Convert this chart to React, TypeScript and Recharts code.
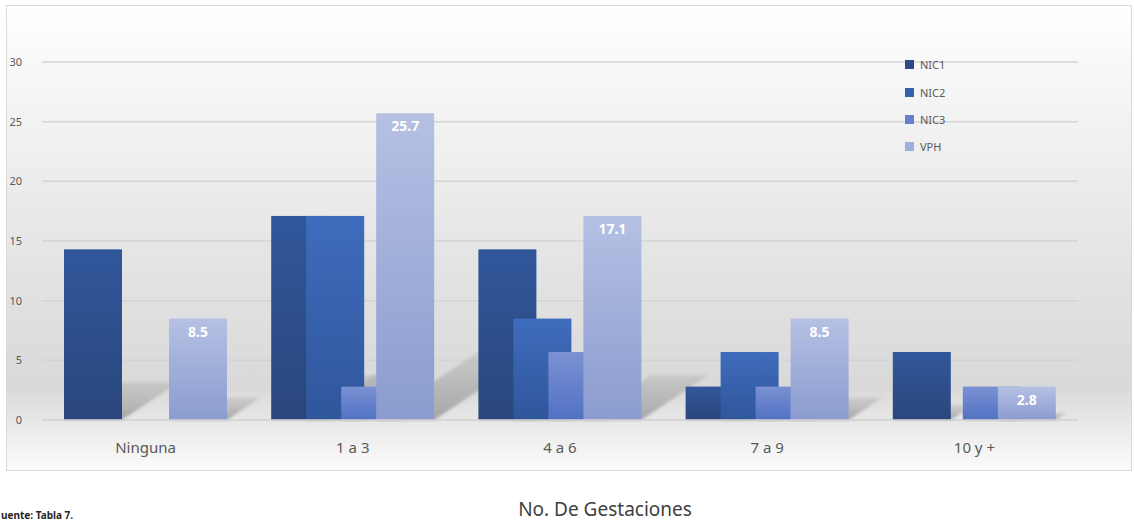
import { Bar, BarChart, CartesianGrid, LabelList, XAxis, YAxis } from "recharts";

const categories = ["Ninguna", "1 a 3", "4 a 6", "7 a 9", "10 y +"];
const nic1 = [14.3, 17.1, 14.3, 2.8, 5.7];
const nic2 = [0, 17.1, 8.5, 5.7, 0];
const nic3 = [0, 2.8, 5.7, 2.8, 2.8];
const vph = [8.5, 25.7, 17.1, 8.5, 2.8];
const yTicks = [0, 5, 10, 15, 20, 25, 30];

const series = [
  { key: "NIC1", values: nic1, top: "#31579b", bottom: "#2a467c", swatch: "#2c4a85" },
  { key: "NIC2", values: nic2, top: "#3f6cbd", bottom: "#30569b", swatch: "#3760ad" },
  { key: "NIC3", values: nic3, top: "#7b91d2", bottom: "#5171c4", swatch: "#6680cb" },
  { key: "VPH", values: vph, top: "#b5c0e3", bottom: "#8a9ccf", swatch: "#a0afda" },
];

const data = categories.map((name, i) => {
  const row: Record<string, string | number> = { name };
  series.forEach((s) => (row[s.key] = s.values[i]));
  return row;
});

const W = 1124;
const H = 464;
const margin = { top: 56, right: 53, bottom: 0, left: 0 };
const font = "'Noto Sans', sans-serif";

function ShadowShape(props: any) {
  const { x, y, width, height } = props;
  if (!height || height <= 0) return null;
  const b = y + height;
  const dx = height * 0.33;
  const dy = -height * 0.22;
  const pts = `${x},${b} ${x + width},${b} ${x + width + dx},${b + dy} ${x + dx},${b + dy}`;
  return <polygon points={pts} fill="url(#shadowFill)" filter="url(#shadowBlur)" />;
}

function GradBar(props: any) {
  const { x, y, width, height, dataKey } = props;
  if (!height || height <= 0) return null;
  return <rect x={x} y={y} width={width} height={height} fill={`url(#g-${dataKey})`} />;
}

const NoTick = () => <g />;

function LegendBox() {
  return (
    <div style={{ position: "absolute", left: 898, top: 45, fontFamily: font, fontSize: 11, color: "#595959" }}>
      {series.map((s) => (
        <div key={s.key} style={{ display: "flex", alignItems: "center", height: 27.4 }}>
          <span style={{ width: 9, height: 9, background: s.swatch, marginRight: 6 }} />
          {s.key}
        </div>
      ))}
    </div>
  );
}

export default function App() {
  return (
    <div style={{ position: "absolute", left: 0, top: 0, width: 1134, height: 523, background: "#fff", overflow: "hidden" }}>
      <div
        style={{
          position: "absolute",
          left: 6,
          top: 5,
          width: W,
          height: H,
          border: "1px solid #d9d9d9",
          background: "linear-gradient(180deg, #ffffff 0%, #f7f7f7 15%, #e4e4e4 55%, #d9d9d9 82%, #f4f4f4 96%, #fbfbfb 100%)",
        }}
      >
        {/* floor shadows and gridlines sit in a chart underneath so every bar covers them */}
        <div style={{ position: "absolute", left: 0, top: 0 }}>
          <BarChart width={W} height={H} data={data} margin={margin} barSize={58} barGap={-23}>
            <defs>
              <linearGradient id="shadowFill" x1="0" y1="1" x2="0" y2="0">
                <stop offset="0%" stopColor="#8f8f8f" stopOpacity={0.75} />
                <stop offset="100%" stopColor="#a8a8a8" stopOpacity={0.35} />
              </linearGradient>
              <filter id="shadowBlur" x="-20%" y="-20%" width="140%" height="140%">
                <feGaussianBlur stdDeviation="1.5" />
              </filter>
            </defs>
            <CartesianGrid vertical={false} stroke="#d4d4d4" strokeWidth={1.5} />
            <XAxis dataKey="name" height={50} tick={NoTick} axisLine={false} tickLine={false} />
            <YAxis domain={[0, 30]} ticks={yTicks} width={35} tick={NoTick} axisLine={false} tickLine={false} />
            {series.map((s) => (
              <Bar key={s.key} dataKey={s.key} shape={<ShadowShape />} isAnimationActive={false} />
            ))}
          </BarChart>
        </div>
        <div style={{ position: "absolute", left: 0, top: 0 }}>
          <BarChart width={W} height={H} data={data} margin={margin} barSize={58} barGap={-23}>
            <defs>
              {series.map((s) => (
                <linearGradient key={s.key} id={`g-${s.key}`} x1="0" y1="0" x2="0" y2="1">
                  <stop offset="0%" stopColor={s.top} />
                  <stop offset="100%" stopColor={s.bottom} />
                </linearGradient>
              ))}
            </defs>
            <XAxis
              dataKey="name"
              height={50}
              axisLine={{ stroke: "#d4d4d4", strokeWidth: 1.5 }}
              tickLine={false}
              tickMargin={16}
              tick={{ fill: "#595959", fontSize: 15, fontFamily: font }}
            />
            <YAxis
              domain={[0, 30]}
              ticks={yTicks}
              width={35}
              axisLine={false}
              tickLine={false}
              tickMargin={14}
              tick={{ fill: "#595959", fontSize: 11, fontFamily: font }}
            />
            {series.map((s) => (
              <Bar key={s.key} dataKey={s.key} shape={<GradBar dataKey={s.key} />} isAnimationActive={false}>
                {s.key === "VPH" && (
                  <LabelList
                    dataKey="VPH"
                    position="insideTop"
                    offset={8}
                    fill="#ffffff"
                    fontSize={14}
                    fontWeight="bold"
                    fontFamily={font}
                  />
                )}
              </Bar>
            ))}
          </BarChart>
        </div>
        <LegendBox />
      </div>
      <div
        style={{
          position: "absolute",
          left: 0,
          right: 0,
          top: 496,
          textAlign: "center",
          paddingLeft: 76,
          fontFamily: font,
          fontSize: 19,
          color: "#404040",
        }}
      >
        No. De Gestaciones
      </div>
      <div
        style={{
          position: "absolute",
          left: 1,
          top: 508,
          fontFamily: font,
          fontSize: 10,
          fontWeight: "bold",
          color: "#262626",
        }}
      >
        uente: Tabla 7.
      </div>
    </div>
  );
}
